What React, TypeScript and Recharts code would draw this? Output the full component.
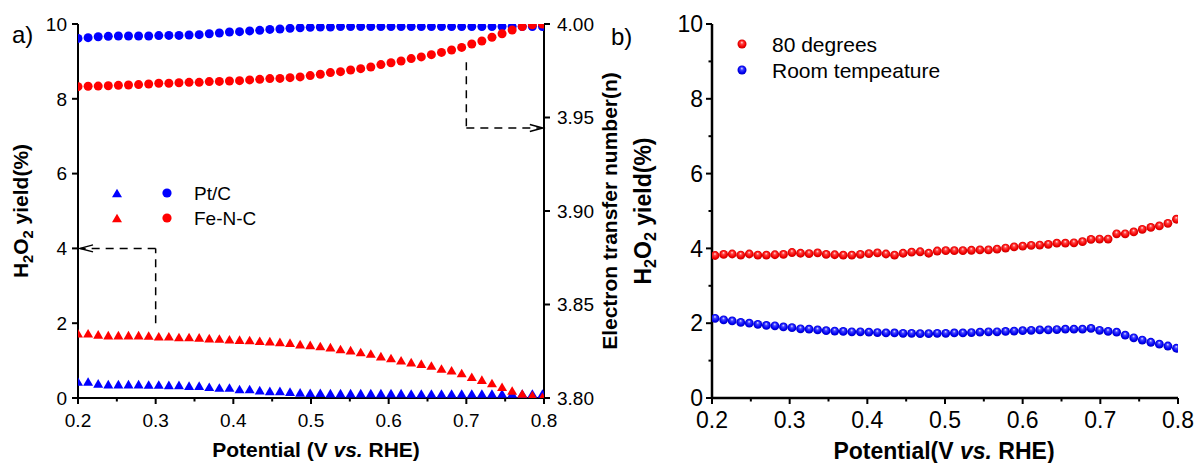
import React from 'react'
import {
  ComposedChart,
  Scatter,
  XAxis,
  YAxis,
  ReferenceLine,
  ReferenceDot,
  Legend,
} from 'recharts'

const FONT = '"Liberation Sans", Arial, Helvetica, sans-serif'
const RED = '#ff0000'
const BLUE = '#0000ff'
const PLOT_BOTTOM = 398

// ---- panel a: RRDE test, Pt/C vs Fe-N-C ----
const potentialA = [
  0.2, 0.213, 0.226, 0.239, 0.252, 0.265, 0.278, 0.291, 0.304, 0.317, 0.33, 0.343,
  0.356, 0.369, 0.382, 0.395, 0.408, 0.421, 0.434, 0.447, 0.46, 0.473, 0.486, 0.499,
  0.512, 0.525, 0.538, 0.551, 0.564, 0.577, 0.59, 0.603, 0.616, 0.629, 0.642, 0.655,
  0.668, 0.681, 0.694, 0.707, 0.72, 0.733, 0.746, 0.759, 0.772, 0.785, 0.798,
]
// H2O2 yield (%)
const ptcYield = [
  0.44, 0.44, 0.39, 0.37, 0.37, 0.37, 0.37, 0.36, 0.36, 0.35, 0.35, 0.33,
  0.33, 0.3, 0.28, 0.28, 0.24, 0.24, 0.21, 0.19, 0.19, 0.17, 0.15, 0.14,
  0.14, 0.13, 0.13, 0.13, 0.13, 0.13, 0.13, 0.13, 0.13, 0.12, 0.12, 0.12,
  0.12, 0.12, 0.12, 0.12, 0.12, 0.12, 0.12, 0.12, 0.12, 0.12, 0.12,
]
const fencYield = [
  1.73, 1.73, 1.7, 1.68, 1.68, 1.68, 1.68, 1.67, 1.65, 1.65, 1.63, 1.63,
  1.62, 1.6, 1.59, 1.57, 1.56, 1.55, 1.53, 1.52, 1.5, 1.48, 1.44, 1.42,
  1.39, 1.36, 1.31, 1.28, 1.23, 1.19, 1.12, 1.07, 1.01, 0.96, 0.92, 0.87,
  0.79, 0.74, 0.67, 0.57, 0.49, 0.4, 0.3, 0.2, 0.12, 0.08, 0.03,
]
// electron transfer number
const ptcN = [
  3.9923, 3.9927, 3.9932, 3.9934, 3.9936, 3.9936, 3.9936, 3.9936, 3.9938, 3.9939, 3.9939, 3.9941,
  3.9943, 3.9948, 3.9952, 3.9957, 3.9959, 3.9963, 3.9966, 3.9971, 3.9973, 3.9977, 3.998, 3.9982,
  3.9984, 3.9984, 3.9986, 3.9986, 3.9986, 3.9986, 3.9986, 3.9986, 3.9986, 3.9986, 3.9986, 3.9986,
  3.9986, 3.9986, 3.9986, 3.9986, 3.9986, 3.9986, 3.9986, 3.9986, 3.9986, 3.9986, 3.9986,
]
const fencN = [
  3.9665, 3.9667, 3.9668, 3.967, 3.9672, 3.9674, 3.9676, 3.9679, 3.9683, 3.9683, 3.9686, 3.9688,
  3.9688, 3.9692, 3.9693, 3.9695, 3.9697, 3.9701, 3.9704, 3.9708, 3.9709, 3.9713, 3.9717, 3.9724,
  3.9731, 3.974, 3.9745, 3.9754, 3.9761, 3.977, 3.9783, 3.9793, 3.9802, 3.9815, 3.9824, 3.9836,
  3.9848, 3.9861, 3.9875, 3.9893, 3.9909, 3.9929, 3.9948, 3.9968, 3.9986, 3.9996, 4.0,
]

// ---- panel b: H2O2 yield at two temperatures ----
const potentialB = [
  0.204, 0.215, 0.226, 0.237, 0.248, 0.259, 0.27, 0.281, 0.292, 0.303, 0.314, 0.325,
  0.336, 0.347, 0.358, 0.369, 0.38, 0.391, 0.402, 0.413, 0.424, 0.435, 0.446, 0.457,
  0.468, 0.479, 0.49, 0.501, 0.512, 0.523, 0.534, 0.545, 0.556, 0.567, 0.578, 0.589,
  0.6, 0.611, 0.622, 0.633, 0.644, 0.655, 0.666, 0.677, 0.688, 0.699, 0.71, 0.721,
  0.732, 0.743, 0.754, 0.765, 0.776, 0.787, 0.798,
]
const hotYield = [
  3.81, 3.84, 3.85, 3.82, 3.85, 3.82, 3.82, 3.83, 3.84, 3.89, 3.87, 3.86,
  3.88, 3.84, 3.83, 3.82, 3.82, 3.84, 3.86, 3.88, 3.85, 3.82, 3.87, 3.9,
  3.91, 3.87, 3.93, 3.94, 3.94, 3.94, 3.95, 3.96, 3.96, 3.98, 4.01, 4.04,
  4.06, 4.08, 4.09, 4.11, 4.14, 4.14, 4.15, 4.18, 4.24, 4.25, 4.25, 4.39,
  4.39, 4.44, 4.51, 4.56, 4.6, 4.67, 4.78,
]
const roomYield = [
  2.13, 2.09, 2.06, 2.02, 2.0, 1.97, 1.94, 1.93, 1.9, 1.88, 1.85, 1.84,
  1.82, 1.8, 1.79, 1.78, 1.77, 1.77, 1.76, 1.75, 1.74, 1.74, 1.73, 1.73,
  1.72, 1.72, 1.73, 1.73, 1.74, 1.74, 1.75, 1.76, 1.77, 1.77, 1.78, 1.79,
  1.8, 1.81, 1.82, 1.82, 1.83, 1.84, 1.84, 1.84, 1.86, 1.81, 1.78, 1.76,
  1.68, 1.61, 1.55, 1.49, 1.44, 1.39, 1.33,
]

const xTicks = [0.2, 0.25, 0.3, 0.35, 0.4, 0.45, 0.5, 0.55, 0.6, 0.65, 0.7, 0.75, 0.8]
const yTicksA = [0, 2, 4, 6, 8, 10]
const nTicks = [3.8, 3.85, 3.9, 3.95, 4.0]
const yTicksB = [0, 1, 2, 3, 4, 5, 6, 7, 8, 9, 10]

const legendA = [
  { name: 'Pt/C', color: BLUE },
  { name: 'Fe-N-C', color: RED },
]
const legendB = [
  { name: '80 degrees', fill: 'url(#ballRed)' },
  { name: 'Room tempeature', fill: 'url(#ballBlue)' },
]

const pts = (xs: number[], ys: number[]) => xs.map((v, i) => ({ v, y: ys[i] }))

const onStep = (v: number, step: number) => Math.abs(v / step - Math.round(v / step)) < 1e-6

// ---------- ticks ----------
const bottomTick = (fontSize: number, labelDy: number) => (p: any) => {
  const v = p.payload.value
  const major = onStep(v, 0.1)
  const y0 = PLOT_BOTTOM
  return (
    <g>
      <line x1={p.x} x2={p.x} y1={y0} y2={y0 + (major ? 6 : 3.5)} stroke="#000" strokeWidth={2} />
      {major && (
        <text x={p.x} y={y0 + labelDy} textAnchor="middle" fontSize={fontSize} fontFamily={FONT} fill="#000">
          {v.toFixed(1)}
        </text>
      )}
    </g>
  )
}

const sideTick =
  (side: 'left' | 'right', fontSize: number, gap: number, step: number, fmt: (v: number) => string) =>
  (p: any) => {
    const v = p.payload.value
    const major = onStep(v, step)
    const s = side === 'left' ? -1 : 1
    return (
      <g>
        <line x1={p.x} x2={p.x + s * (major ? 6 : 3.5)} y1={p.y} y2={p.y} stroke="#000" strokeWidth={2} />
        {major && (
          <text
            x={p.x + s * gap}
            y={p.y}
            dy="0.36em"
            textAnchor={side === 'left' ? 'end' : 'start'}
            fontSize={fontSize}
            fontFamily={FONT}
            fill="#000"
          >
            {fmt(v)}
          </text>
        )}
      </g>
    )
  }

// ---------- axis titles ----------
const XTitle = ({ tx, ty, fs, text }: any) => (
  <text x={tx} y={ty} textAnchor="middle" fontSize={fs} fontWeight="bold" fontFamily={FONT} fill="#000">
    {text}
    <tspan fontStyle="italic">vs.</tspan> RHE)
  </text>
)

const YieldTitle = ({ tx, ty, fs }: any) => (
  <text
    x={tx}
    y={ty}
    transform={`rotate(-90, ${tx}, ${ty})`}
    textAnchor="middle"
    fontSize={fs}
    fontWeight="bold"
    fontFamily={FONT}
    fill="#000"
  >
    H<tspan dy={5} fontSize={fs * 0.7}>2</tspan>
    <tspan dy={-5}>O</tspan>
    <tspan dy={5} fontSize={fs * 0.7}>2</tspan>
    <tspan dy={-5}> yield(%)</tspan>
  </text>
)

const NTitle = () => (
  <text
    x={617}
    y={211}
    transform="rotate(-90, 617, 211)"
    textAnchor="middle"
    fontSize={21}
    fontWeight="bold"
    fontFamily={FONT}
    fill="#000"
  >
    Electron transfer number(n)
  </text>
)

// ---------- markers ----------
const triangle = (color: string) => (p: any) =>
  <path d={`M${p.cx},${p.cy - 4.3}L${p.cx + 5},${p.cy + 4.3}L${p.cx - 5},${p.cy + 4.3}Z`} fill={color} />

const dot = (fill: string, r: number) => (p: any) => <circle cx={p.cx} cy={p.cy} r={r} fill={fill} />

const arrowHead = (dir: 1 | -1) => (p: any) =>
  (
    <path
      d={`M${p.cx - dir * 13},${p.cy - 3.5}L${p.cx},${p.cy}L${p.cx - dir * 13},${p.cy + 3.5}`}
      fill="none"
      stroke="#000"
      strokeWidth={1.5}
    />
  )

// ---------- legends ----------
const LegendA = () => (
  <svg width={200} height={60}>
    {legendA.map((d, i) => {
      const cy = 18 + i * 25
      return (
        <g key={d.name}>
          <path d={`M17,${cy - 4.3}L22,${cy + 4.3}L12,${cy + 4.3}Z`} fill={d.color} />
          <circle cx={67} cy={cy} r={4.6} fill={d.color} />
          <text x={94} y={cy + 7} fontSize={19} fontFamily={FONT} fill="#000">
            {d.name}
          </text>
        </g>
      )
    })}
  </svg>
)

const LegendB = () => (
  <svg width={240} height={60}>
    {legendB.map((d, i) => {
      const cy = 19 + i * 26
      return (
        <g key={d.name}>
          <circle cx={22} cy={cy} r={4.5} fill={d.fill} />
          <text x={52} y={cy + 7.5} fontSize={21} fontFamily={FONT} fill="#000">
            {d.name}
          </text>
        </g>
      )
    })}
  </svg>
)

const axisLine = { stroke: '#000', strokeWidth: 2 }

export default function App() {
  return (
    <div
      style={{
        position: 'absolute',
        left: 0,
        top: 0,
        width: 1196,
        height: 463,
        background: '#fff',
        overflow: 'hidden',
        fontFamily: FONT,
      }}
    >
      {/* panel a */}
      <div style={{ position: 'absolute', left: 0, top: 0 }}>
        <ComposedChart width={640} height={463} margin={{ top: 24, right: 0, bottom: 0, left: 0 }}>
          <XAxis
            type="number"
            dataKey="v"
            domain={[0.2, 0.8]}
            ticks={xTicks}
            interval={0}
            allowDataOverflow
            height={65}
            tickSize={0}
            tickMargin={0}
            tickLine={false}
            axisLine={axisLine}
            tick={bottomTick(19, 29)}
            label={<XTitle tx={316} ty={457} fs={21} text="Potential (V " />}
          />
          <XAxis
            xAxisId="top"
            orientation="top"
            type="number"
            domain={[0.2, 0.8]}
            allowDataOverflow
            height={0}
            tick={false}
            tickLine={false}
            axisLine={{ stroke: '#000', strokeWidth: 1.5 }}
          />
          <YAxis
            yAxisId="left"
            type="number"
            dataKey="y"
            domain={[0, 10]}
            ticks={yTicksA}
            interval={0}
            allowDataOverflow
            width={78}
            tickSize={0}
            tickMargin={0}
            tickLine={false}
            axisLine={axisLine}
            tick={sideTick('left', 19, 11, 2, (v) => String(v))}
            label={<YieldTitle tx={28} ty={211} fs={21} />}
          />
          <YAxis
            yAxisId="right"
            orientation="right"
            type="number"
            dataKey="y"
            domain={[3.8, 4.0]}
            ticks={nTicks}
            interval={0}
            allowDataOverflow
            width={96}
            tickSize={0}
            tickMargin={0}
            tickLine={false}
            axisLine={axisLine}
            tick={sideTick('right', 19, 13, 0.05, (v) => v.toFixed(2))}
            label={<NTitle />}
          />
          <Legend
            layout="horizontal"
            verticalAlign="middle"
            align="center"
            wrapperStyle={{ left: 100, top: 175, width: 200, height: 60 }}
            content={() => <LegendA />}
          />

          <ReferenceLine yAxisId="left" segment={[{ x: 0.3, y: 2.0 }, { x: 0.3, y: 4 }]} stroke="#000" strokeWidth={1.5} strokeDasharray="8 6" />
          <ReferenceLine yAxisId="left" segment={[{ x: 0.3, y: 4 }, { x: 0.203, y: 4 }]} stroke="#000" strokeWidth={1.5} strokeDasharray="8 6" />
          <ReferenceDot yAxisId="left" x={0.2026} y={4} shape={arrowHead(-1)} />
          <ReferenceLine yAxisId="right" segment={[{ x: 0.7, y: 3.9795 }, { x: 0.7, y: 3.9444 }]} stroke="#000" strokeWidth={1.5} strokeDasharray="8 6" />
          <ReferenceLine yAxisId="right" segment={[{ x: 0.7, y: 3.9444 }, { x: 0.797, y: 3.9444 }]} stroke="#000" strokeWidth={1.5} strokeDasharray="8 6" />
          <ReferenceDot yAxisId="right" x={0.7985} y={3.9444} shape={arrowHead(1)} />

          <Scatter name="Pt/C yield" yAxisId="left" data={pts(potentialA, ptcYield)} dataKey="y" shape={triangle(BLUE)} isAnimationActive={false} />
          <Scatter name="Fe-N-C yield" yAxisId="left" data={pts(potentialA, fencYield)} dataKey="y" shape={triangle(RED)} isAnimationActive={false} />
          <Scatter name="Pt/C n" yAxisId="right" data={pts(potentialA, ptcN)} dataKey="y" shape={dot(BLUE, 4.5)} isAnimationActive={false} />
          <Scatter name="Fe-N-C n" yAxisId="right" data={pts(potentialA, fencN)} dataKey="y" shape={dot(RED, 4.5)} isAnimationActive={false} />
        </ComposedChart>
      </div>

      {/* panel b */}
      <div style={{ position: 'absolute', left: 560, top: 0 }}>
        <ComposedChart width={636} height={463} margin={{ top: 24, right: 18, bottom: 0, left: 0 }}>
          <XAxis
            type="number"
            dataKey="v"
            domain={[0.2, 0.8]}
            ticks={xTicks}
            interval={0}
            allowDataOverflow
            height={65}
            tickSize={0}
            tickMargin={0}
            tickLine={false}
            axisLine={{ stroke: '#000', strokeWidth: 2.5 }}
            tick={bottomTick(23, 30)}
            label={<XTitle tx={384} ty={459} fs={23} text="Potential(V " />}
          />
          <XAxis
            xAxisId="top"
            orientation="top"
            type="number"
            domain={[0.2, 0.8]}
            allowDataOverflow
            height={0}
            tick={false}
            tickLine={false}
            axisLine={{ stroke: '#000', strokeWidth: 2.5 }}
          />
          <YAxis
            type="number"
            dataKey="y"
            domain={[0, 10]}
            ticks={yTicksB}
            interval={0}
            allowDataOverflow
            width={152}
            tickSize={0}
            tickMargin={0}
            tickLine={false}
            axisLine={{ stroke: '#000', strokeWidth: 2.5 }}
            tick={sideTick('left', 23, 9, 2, (v) => String(v))}
            label={<YieldTitle tx={91} ty={211} fs={23} />}
          />
          <YAxis
            yAxisId="frame"
            orientation="right"
            type="number"
            domain={[0, 10]}
            allowDataOverflow
            width={0}
            tick={false}
            tickLine={false}
            axisLine={{ stroke: '#000', strokeWidth: 2.5 }}
          />
          <Legend
            layout="horizontal"
            verticalAlign="middle"
            align="center"
            wrapperStyle={{ left: 160, top: 25, width: 240, height: 60 }}
            content={() => <LegendB />}
          />
          <Scatter name="80 degrees" data={pts(potentialB, hotYield)} dataKey="y" shape={dot('url(#ballRed)', 4.4)} isAnimationActive={false} />
          <Scatter name="Room tempeature" data={pts(potentialB, roomYield)} dataKey="y" shape={dot('url(#ballBlue)', 4.4)} isAnimationActive={false} />
        </ComposedChart>
      </div>

      {/* panel letters and shared gradients */}
      <svg width={1196} height={463} style={{ position: 'absolute', left: 0, top: 0, pointerEvents: 'none' }}>
        <defs>
          <radialGradient id="ballRed" cx="50%" cy="50%" r="55%" fx="48%" fy="30%">
            <stop offset="0%" stopColor="#ffe4e4" />
            <stop offset="30%" stopColor="#ff4040" />
            <stop offset="70%" stopColor="#f20000" />
            <stop offset="100%" stopColor="#b80000" />
          </radialGradient>
          <radialGradient id="ballBlue" cx="50%" cy="50%" r="55%" fx="48%" fy="30%">
            <stop offset="0%" stopColor="#e4e4ff" />
            <stop offset="30%" stopColor="#4040ff" />
            <stop offset="70%" stopColor="#0000f2" />
            <stop offset="100%" stopColor="#0000b0" />
          </radialGradient>
        </defs>
        <text x={12} y={43} fontSize={24} fontFamily={FONT} fill="#000">
          a)
        </text>
        <text x={611} y={45} fontSize={24} fontFamily={FONT} fill="#000">
          b)
        </text>
      </svg>
    </div>
  )
}
